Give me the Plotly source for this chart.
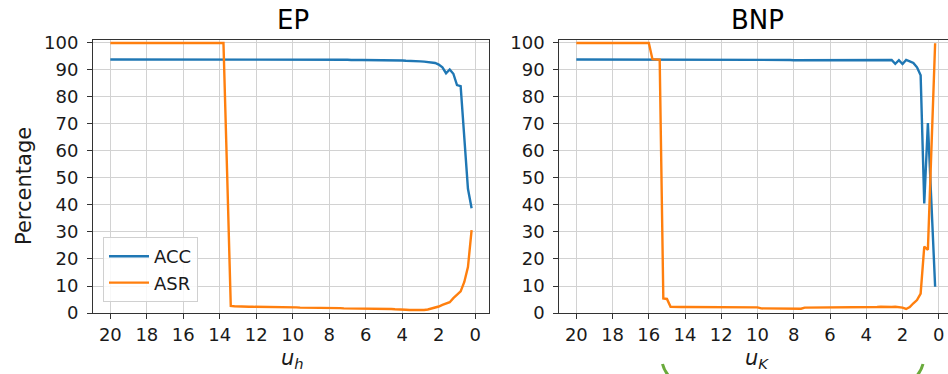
import plotly.graph_objects as go

# Threshold sweep: 20.0 down to 0.2 in steps of 0.2 (shared by both panels)
u_values = [round(20 - 0.2 * i, 1) for i in range(100)]

# EP panel (x = u_h)
ep_acc = [
    93.9, 93.9, 93.9, 94.0, 93.9, 93.9, 93.9, 93.8, 93.9, 93.9,
    93.9, 94.0, 93.9, 93.9, 93.9, 93.9, 93.8, 93.9, 93.9, 93.9,
    93.9, 93.9, 93.9, 93.9, 94.0, 93.9, 93.9, 93.9, 93.9, 93.9,
    93.9, 93.9, 93.9, 93.8, 93.9, 93.9, 93.9, 93.9, 93.9, 93.9,
    93.9, 93.9, 93.9, 93.9, 93.9, 93.8, 93.9, 93.9, 93.9, 93.9,
    93.9, 93.9, 93.9, 93.9, 93.8, 93.9, 93.9, 93.9, 93.9, 93.9,
    93.9, 93.8, 93.9, 93.8, 93.8, 93.8, 93.7, 93.8, 93.7, 93.7,
    93.7, 93.6, 93.6, 93.7, 93.6, 93.6, 93.5, 93.6, 93.5, 93.5,
    93.5, 93.4, 93.4, 93.3, 93.3, 93.2, 93.1, 93.0, 92.8, 92.6,
    92.0, 91.0, 88.8, 90.2, 88.6, 84.4, 84.0, 66.0, 46.0, 38.8,
]
ep_asr = [
    100.0, 100.0, 100.0, 100.0, 100.0, 100.0, 100.0, 100.0, 100.0, 100.0,
    100.0, 100.0, 100.0, 100.0, 100.0, 100.0, 100.0, 100.0, 100.0, 100.0,
    100.0, 100.0, 100.0, 100.0, 100.0, 100.0, 100.0, 100.0, 100.0, 100.0,
    100.0, 100.0, 52.0, 2.6, 2.5, 2.4, 2.4, 2.4, 2.3, 2.3,
    2.3, 2.3, 2.2, 2.2, 2.2, 2.2, 2.2, 2.2, 2.1, 2.1,
    2.1, 2.1, 2.0, 2.0, 2.0, 1.9, 1.9, 1.9, 1.9, 1.8,
    1.8, 1.8, 1.8, 1.8, 1.7, 1.7, 1.7, 1.7, 1.7, 1.7,
    1.7, 1.6, 1.6, 1.6, 1.6, 1.5, 1.5, 1.5, 1.4, 1.4,
    1.3, 1.2, 1.1, 1.1, 1.0, 1.0, 1.1, 1.3, 1.6, 2.0,
    2.4, 3.0, 3.6, 4.0, 5.5, 6.7, 8.0, 11.5, 17.0, 30.7,
]

# BNP panel (x = u_K)
bnp_acc = [
    93.9, 93.9, 93.9, 93.9, 93.8, 93.9, 93.9, 93.9, 93.9, 93.9,
    93.9, 93.9, 93.8, 93.9, 93.9, 93.9, 93.9, 93.9, 93.9, 93.8,
    93.9, 93.9, 93.9, 93.9, 93.9, 93.9, 93.8, 93.9, 93.9, 93.9,
    93.9, 93.9, 93.9, 93.9, 93.9, 93.8, 93.9, 93.9, 93.9, 93.9,
    93.9, 93.8, 93.9, 93.9, 93.9, 93.9, 93.9, 93.8, 93.8, 93.8,
    93.8, 93.8, 93.8, 93.7, 93.8, 93.8, 93.7, 93.7, 93.7, 93.7,
    93.6, 93.6, 93.7, 93.6, 93.6, 93.6, 93.7, 93.6, 93.6, 93.6,
    93.6, 93.6, 93.5, 93.6, 93.6, 93.6, 93.5, 93.6, 93.6, 93.6,
    93.6, 93.5, 93.6, 93.5, 93.6, 93.5, 93.6, 93.7, 92.3, 93.6,
    92.2, 93.7, 93.2, 92.6, 91.0, 88.0, 40.6, 70.3, 40.0, 9.7,
]
bnp_asr = [
    100.0, 100.0, 100.0, 100.0, 100.0, 100.0, 100.0, 100.0, 100.0, 100.0,
    100.0, 100.0, 100.0, 100.0, 100.0, 100.0, 100.0, 100.0, 100.0, 100.0,
    100.0, 94.0, 93.9, 93.8, 5.4, 5.2, 2.3, 2.2, 2.2, 2.2,
    2.2, 2.2, 2.2, 2.2, 2.2, 2.2, 2.2, 2.2, 2.2, 2.2,
    2.2, 2.2, 2.2, 2.2, 2.2, 2.2, 2.2, 2.2, 2.2, 2.1,
    2.1, 1.7, 1.7, 1.6, 1.6, 1.6, 1.6, 1.6, 1.5, 1.5,
    1.5, 1.6, 1.6, 2.0, 2.0, 2.0, 2.0, 2.0, 2.0, 2.0,
    2.0, 2.1, 2.1, 2.1, 2.1, 2.1, 2.1, 2.1, 2.1, 2.2,
    2.2, 2.2, 2.2, 2.2, 2.3, 2.2, 2.3, 2.2, 2.3, 2.2,
    2.0, 1.5, 2.2, 3.6, 4.8, 7.2, 24.6, 23.4, 61.0, 99.9,
]

panel_titles = ["EP", "BNP"]
x_titles = ["<i>u</i><sub><i>h</i></sub>", "<i>u</i><sub><i>K</i></sub>"]
y_title = "Percentage"
x_ticks = [20, 18, 16, 14, 12, 10, 8, 6, 4, 2, 0]
y_ticks = [0, 10, 20, 30, 40, 50, 60, 70, 80, 90, 100]

W, H = 948, 374
ACC_COLOR = "#1f77b4"
ASR_COLOR = "#ff7f0e"
FONT = "DejaVu Sans"
TEXT = "#1a1a1a"


def px_x(p):
    return p / W


def px_y(p):
    return 1 - p / H


fig = go.Figure()

for xa, ya, acc, asr, show in [("x", "y", ep_acc, ep_asr, True),
                                ("x2", "y2", bnp_acc, bnp_asr, False)]:
    fig.add_trace(go.Scatter(x=u_values, y=acc, name="ACC", mode="lines",
                             line=dict(color=ACC_COLOR, width=2.4),
                             xaxis=xa, yaxis=ya, showlegend=show,
                             legendgroup="acc"))
    fig.add_trace(go.Scatter(x=u_values, y=asr, name="ASR", mode="lines",
                             line=dict(color=ASR_COLOR, width=2.4),
                             xaxis=xa, yaxis=ya, showlegend=show,
                             legendgroup="asr"))

axis_common = dict(
    showgrid=True, gridcolor="#d2d2d2", gridwidth=1,
    showline=True, linecolor="#333333", linewidth=1,
    ticks="outside", ticklen=5, tickwidth=1, tickcolor="#333333",
    tickfont=dict(family=FONT, size=18, color=TEXT),
    zeroline=False, layer="below traces", automargin=False,
)
y_extra = dict(ticklabelstandoff=5)

y_dom = [px_y(313), px_y(40)]

fig.update_layout(
    width=W, height=H,
    margin=dict(l=0, r=0, t=0, b=0, pad=0, autoexpand=False),
    paper_bgcolor="white", plot_bgcolor="white",
    font=dict(family=FONT, color=TEXT),
    xaxis=dict(axis_common, domain=[px_x(93), px_x(489.3)],
               range=[20.95, -0.77], tickvals=x_ticks, anchor="y",
               mirror=True),
    yaxis=dict(axis_common, **y_extra, domain=y_dom, range=[0, 101.1],
               tickvals=y_ticks, anchor="x", mirror=True),
    xaxis2=dict(axis_common, domain=[px_x(559.3), 1.0],
                range=[20.94, -0.51], tickvals=x_ticks, anchor="y2",
                mirror=True),
    yaxis2=dict(axis_common, **y_extra, domain=y_dom, range=[0, 101.1],
                tickvals=y_ticks, anchor="x2", mirror=False),
    legend=dict(
        x=px_x(103), y=px_y(302), xanchor="left", yanchor="bottom",
        bgcolor="rgba(255,255,255,0.85)", bordercolor="#d0d0d0",
        borderwidth=1, font=dict(family=FONT, size=18, color=TEXT),
        tracegroupgap=0, itemwidth=40,
    ),
)

annotations = [
    dict(text=panel_titles[0], x=px_x(293), y=px_y(20), xref="paper",
         yref="paper", showarrow=False, xanchor="center", yanchor="middle",
         font=dict(family=FONT, size=26, color="#000000")),
    dict(text=panel_titles[1], x=px_x(757), y=px_y(20), xref="paper",
         yref="paper", showarrow=False, xanchor="center", yanchor="middle",
         font=dict(family=FONT, size=26, color="#000000")),
    dict(text=x_titles[0], x=px_x(292), y=px_y(359), xref="paper",
         yref="paper", showarrow=False, xanchor="center", yanchor="middle",
         font=dict(family=FONT, size=21, color=TEXT)),
    dict(text=x_titles[1], x=px_x(757), y=px_y(359), xref="paper",
         yref="paper", showarrow=False, xanchor="center", yanchor="middle",
         font=dict(family=FONT, size=21, color=TEXT)),
    dict(text=y_title, x=px_x(24), y=px_y(186), xref="paper",
         yref="paper", showarrow=False, xanchor="center", yanchor="middle",
         textangle=-90, font=dict(family=FONT, size=21, color=TEXT)),
]
fig.update_layout(annotations=annotations)

# two green bracket strokes peeking in at the bottom edge
GREEN = "#6aaa3c"
fig.add_shape(type="path", xref="paper", yref="paper",
              path=f"M {px_x(662.5)} {px_y(364)} Q {px_x(664)} {px_y(370)} {px_x(668)} {px_y(375)}",
              line=dict(color=GREEN, width=3))
fig.add_shape(type="path", xref="paper", yref="paper",
              path=f"M {px_x(923)} {px_y(364)} Q {px_x(921.5)} {px_y(370)} {px_x(917.5)} {px_y(375)}",
              line=dict(color=GREEN, width=3))

fig.write_html("out.html")
